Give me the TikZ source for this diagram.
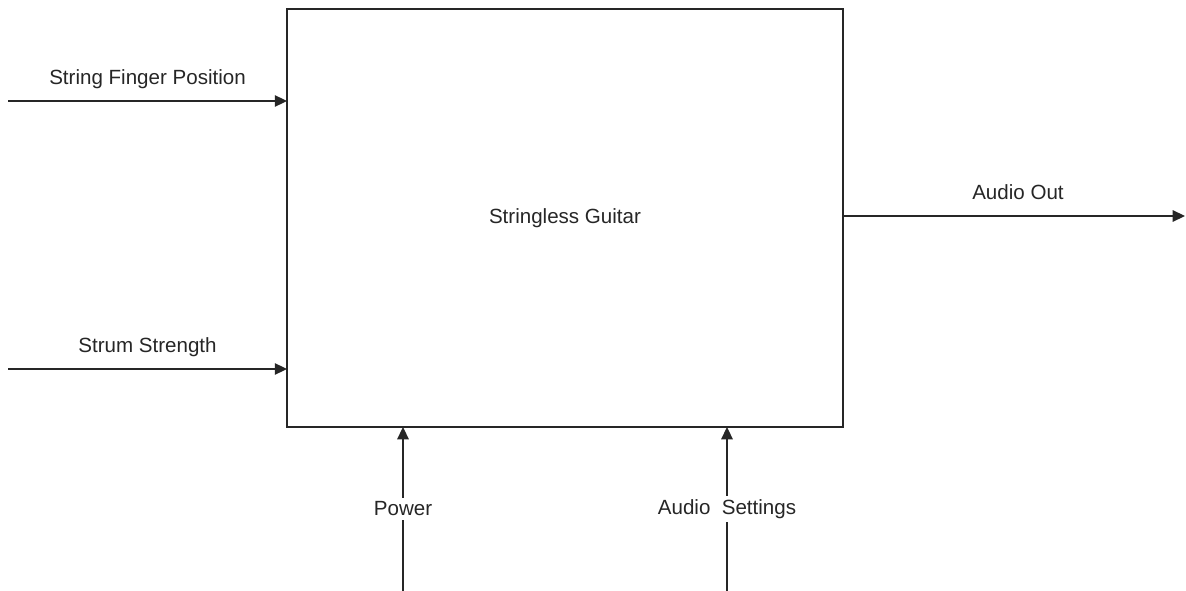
\documentclass[tikz,border=0pt]{standalone}
\usepackage{fontspec}
\setmainfont{Liberation Sans}
\usetikzlibrary{positioning,calc,arrows.meta}

\begin{document}
\begin{tikzpicture}[
    x=0.02cm,y=-0.02cm,
    every node/.style={font=\fontsize{11.7}{14}\selectfont,text=black!85},
    block/.style={rectangle,draw=black!85,line width=0.85pt,minimum width=11.12cm,minimum height=8.36cm,inner sep=0pt,outer sep=0pt},
    arrow/.style={-{Triangle[length=7pt,width=6.5pt]},line width=0.85pt,draw=black!85},
    toplabel/.style={midway,anchor=base,yshift=0.33cm,inner sep=0pt},
    onlabel/.style={midway,fill=white,inner sep=2pt}
    ]
    \useasboundingbox (0,0) rectangle (1186,591);

    \node[block] (guitar) at (565,218) {Stringless Guitar};

    % free ends of the connectors
    \coordinate (finger) at (8,101);
    \coordinate (strum) at (8,369);
    \coordinate (audioout) at (1185,216);
    \coordinate (power) at (403,591);
    \coordinate (settings) at (727,591);

    \draw[arrow] (finger)--(finger -| guitar.west) node[toplabel] (fingerlbl) {String Finger Position};
    \draw[arrow] (strum)--(strum -| guitar.west) node[toplabel] (strumlbl) {Strum Strength};
    \draw[arrow] (audioout -| guitar.east)--(audioout) node[toplabel,xshift=0.08cm] (outlbl) {Audio Out};
    \draw[arrow] (power)--(power |- guitar.south) node[onlabel] (powerlbl) {Power};
    \draw[arrow] (settings)--(settings |- guitar.south) node[onlabel] (settingslbl) {Audio\ \ Settings};

  \end{tikzpicture}
\end{document}
